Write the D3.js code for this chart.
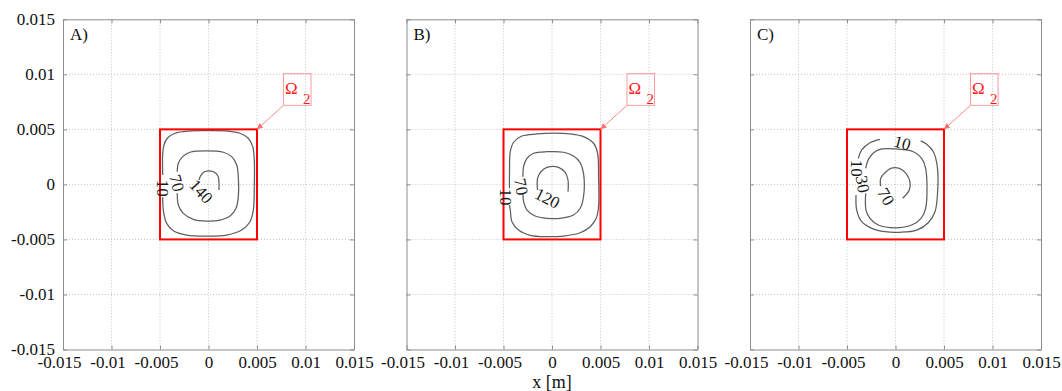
<!DOCTYPE html>
<html><head><meta charset="utf-8">
<script src="https://cdn.jsdelivr.net/npm/d3@7"></script>
<style>
body{margin:0;background:#fff}
text{font-family:"Liberation Serif","Times New Roman",serif}
</style>
</head><body>
<svg id="chart" width="1062" height="391"></svg>
<script>
// ---------------- data ----------------
const xTicks = [-0.015, -0.01, -0.005, 0, 0.005, 0.01, 0.015];
const yTicks = [-0.015, -0.01, -0.005, 0, 0.005, 0.01, 0.015];
const tickLabels = ["-0.015", "-0.01", "-0.005", "0", "0.005", "0.01", "0.015"];
const panelNames = ["A)", "B)", "C)"];
const xAxisTitle = "x [m]";
const regionX = [-0.005, 0.005];          // Ω2 region
const regionY = [-0.005, 0.005];
const omegaBoxX = [0.00773, 0.01057];     // Ω2 annotation box
const omegaBoxY = [0.00718, 0.01006];
const omegaArrowTip = [0.005, 0.005];

// contour polylines (x, y in metres)
const contoursA = [
  {level: 10, pts: [[-0.00472,-0.00117],[-0.00466,-0.00233],[-0.00431,-0.00354],[-0.00363,-0.00421],[-0.00225,-0.00460],[-0.00019,-0.00469],[0.00188,-0.00460],[0.00342,-0.00415],[0.00428,-0.00339],[0.00462,-0.00233],[0.00472,-0.00021],[0.00472,0.00222],[0.00456,0.00343],[0.00410,0.00419],[0.00325,0.00465],[0.00188,0.00485],[-0.00019,0.00488],[-0.00191,0.00485],[-0.00345,0.00465],[-0.00425,0.00419],[-0.00459,0.00358],[-0.00472,0.00283],[-0.00472,0.00085]]},
  {level: 70, pts: [[-0.00322,-0.00081],[-0.00311,-0.00187],[-0.00260,-0.00263],[-0.00157,-0.00317],[-0.00019,-0.00333],[0.00119,-0.00324],[0.00222,-0.00287],[0.00284,-0.00217],[0.00307,-0.00112],[0.00307,0.00070],[0.00291,0.00176],[0.00239,0.00252],[0.00153,0.00292],[-0.00019,0.00304],[-0.00191,0.00292],[-0.00266,0.00252],[-0.00311,0.00192],[-0.00322,0.00115]]},
  {level: 140, pts: [[-0.00098,0.00040],[-0.00077,0.00085],[-0.00036,0.00117],[0.00046,0.00117],[0.00098,0.00076],[0.00108,0.00013],[0.00108,-0.00051]]}
];
const labelsA = [
  {text: "10", x: -0.00472, y: -0.00035, angle: 90},
  {text: "70", x: -0.00330, y: 0.00013, angle: 75},
  {text: "140", x: -0.00077, y: -0.00066, angle: 48}
];

const contoursB = [
  {level: 10, pts: [[-0.00438,-0.00187],[-0.00430,-0.00233],[-0.00413,-0.00339],[-0.00345,-0.00415],[-0.00224,-0.00463],[-0.00052,-0.00475],[0.00119,-0.00469],[0.00291,-0.00439],[0.00394,-0.00385],[0.00456,-0.00308],[0.00480,-0.00203],[0.00480,0.00070],[0.00470,0.00283],[0.00428,0.00374],[0.00325,0.00434],[0.00188,0.00458],[0.00016,0.00465],[-0.00155,0.00458],[-0.00310,0.00440],[-0.00396,0.00383],[-0.00430,0.00297],[-0.00438,0.00131],[-0.00438,-0.00035]]},
  {level: 70, pts: [[-0.00299,-0.00081],[-0.00293,-0.00157],[-0.00258,-0.00233],[-0.00173,-0.00287],[-0.00052,-0.00308],[0.00085,-0.00308],[0.00222,-0.00278],[0.00291,-0.00217],[0.00325,-0.00112],[0.00325,0.00101],[0.00291,0.00197],[0.00222,0.00258],[0.00119,0.00292],[-0.00052,0.00297],[-0.00190,0.00283],[-0.00258,0.00237],[-0.00293,0.00161],[-0.00299,0.00070]]},
  {level: 120, pts: [[-0.00149,-0.00051],[-0.00149,0.00055],[-0.00114,0.00115],[-0.00052,0.00155],[0.00068,0.00155],[0.00137,0.00106],[0.00165,0.00040],[0.00165,-0.00066]]}
];
const labelsB = [
  {text: "10", x: -0.00482, y: -0.00115, angle: 90},
  {text: "70", x: -0.00320, y: -0.00021, angle: 80},
  {text: "120", x: -0.00049, y: -0.00128, angle: 27}
];

const contoursC = [
  {level: 10, pts: [[-0.00160,0.00410],[-0.00263,0.00379],[-0.00348,0.00313],[-0.00384,0.00237]]},
  {level: 10, pts: [[-0.00407,-0.00096],[-0.00400,-0.00233],[-0.00348,-0.00339],[-0.00245,-0.00399],[-0.00108,-0.00430],[0.00046,-0.00435],[0.00219,-0.00415],[0.00338,-0.00348],[0.00407,-0.00248],[0.00431,-0.00112],[0.00431,0.00161],[0.00390,0.00297],[0.00322,0.00365],[0.00260,0.00395]]},
  {level: 30, pts: [[-0.00307,-0.00081],[-0.00304,-0.00233],[-0.00263,-0.00308],[-0.00177,-0.00369],[-0.00005,-0.00394],[0.00167,-0.00369],[0.00263,-0.00308],[0.00311,-0.00217],[0.00311,0.00146],[0.00270,0.00237],[0.00184,0.00297],[-0.00005,0.00322],[-0.00177,0.00313],[-0.00273,0.00237],[-0.00307,0.00146]]},
  {level: 70, pts: [[-0.00153,-0.00015],[-0.00153,0.00055],[-0.00108,0.00106],[-0.00049,0.00146],[0.00039,0.00146],[0.00108,0.00101],[0.00149,0.00025],[0.00142,-0.00051],[0.00074,-0.00126]]}
];
const labelsC = [
  {text: "10", x: 0.00070, y: 0.00374, angle: 15},
  {text: "10", x: -0.00399, y: 0.00146, angle: 90},
  {text: "30", x: -0.00342, y: 0.00001, angle: 80},
  {text: "70", x: -0.00101, y: -0.00112, angle: 60}
];

// ---------------- drawing ----------------
const W = 1062, H = 391;
const svg = d3.select("#chart");
svg.append("rect").attr("width", W).attr("height", H).attr("fill", "#fff");

const defs = svg.append("defs");
defs.append("marker").attr("id", "arr").attr("viewBox", "0 0 10 10")
  .attr("refX", 10).attr("refY", 5).attr("markerWidth", 6).attr("markerHeight", 6)
  .attr("markerUnits", "userSpaceOnUse").attr("orient", "auto")
  .append("path").attr("d", "M0,0L10,5L0,10z").attr("fill", "#ff7070");

const panelLeft = [63, 406.5, 750];
const panelW = 291;
const plotTop = 19.3, plotBottom = 349.5;
const contourSets = [contoursA, contoursB, contoursC];
const labelSets = [labelsA, labelsB, labelsC];
const fmt = d => tickLabels[xTicks.indexOf(d)];
const frameColor = "#8c8c8c";
const tickFont = 17;

panelNames.forEach((name, i) => {
  const x = d3.scaleLinear().domain([xTicks[0], xTicks[xTicks.length - 1]])
    .range([panelLeft[i], panelLeft[i] + panelW]);
  const y = d3.scaleLinear().domain([yTicks[0], yTicks[yTicks.length - 1]])
    .range([plotBottom, plotTop]);
  const g = svg.append("g");

  // grid
  g.selectAll(".gx").data(xTicks.slice(1, -1)).join("line")
    .attr("x1", d => x(d)).attr("x2", d => x(d)).attr("y1", plotTop).attr("y2", plotBottom)
    .attr("stroke", "#c4c4c4").attr("stroke-width", 1).attr("stroke-dasharray", "1,2");
  g.selectAll(".gy").data(yTicks.slice(1, -1)).join("line")
    .attr("y1", d => y(d)).attr("y2", d => y(d)).attr("x1", x.range()[0]).attr("x2", x.range()[1])
    .attr("stroke", "#c4c4c4").attr("stroke-width", 1).attr("stroke-dasharray", "1,2");

  // contours
  const line = d3.line().x(d => x(d[0])).y(d => y(d[1])).curve(d3.curveCatmullRom.alpha(0.5));
  g.selectAll(".ct").data(contourSets[i]).join("path")
    .attr("d", d => line(d.pts)).attr("fill", "none")
    .attr("stroke", "#5e5e5e").attr("stroke-width", 1.25);

  // Ω2 region
  g.append("rect")
    .attr("x", x(regionX[0])).attr("y", y(regionY[1]))
    .attr("width", x(regionX[1]) - x(regionX[0])).attr("height", y(regionY[0]) - y(regionY[1]))
    .attr("fill", "none").attr("stroke", "#ff0000").attr("stroke-width", 2);

  // contour labels
  g.selectAll(".cl").data(labelSets[i]).join("text")
    .attr("transform", d => `translate(${x(d.x)},${y(d.y)}) rotate(${d.angle})`)
    .attr("text-anchor", "middle").attr("dominant-baseline", "central")
    .attr("font-size", 17).attr("fill", "#1a1a1a").text(d => d.text);

  // Ω2 annotation
  const bx0 = x(omegaBoxX[0]), bx1 = x(omegaBoxX[1]), by0 = y(omegaBoxY[1]), by1 = y(omegaBoxY[0]);
  g.append("line").attr("x1", bx0).attr("y1", by1)
    .attr("x2", x(omegaArrowTip[0])).attr("y2", y(omegaArrowTip[1]))
    .attr("stroke", "#ff8a8a").attr("stroke-width", 1).attr("marker-end", "url(#arr)");
  g.append("rect").attr("x", bx0).attr("y", by0).attr("width", bx1 - bx0).attr("height", by1 - by0)
    .attr("fill", "none").attr("stroke", "#ff9c9c").attr("stroke-width", 1);
  g.append("text").attr("x", bx0 + 1.5).attr("y", by0 + 20.5).attr("font-size", 17)
    .attr("fill", "#ff1a1a").text("Ω");
  g.append("text").attr("x", bx0 + 19.5).attr("y", by0 + 30).attr("font-size", 15)
    .attr("fill", "#ff1a1a").text("2");

  // axes
  const xAxis = d3.axisBottom(x).tickValues(xTicks).tickFormat(fmt)
    .tickSizeInner(-4).tickSizeOuter(0).tickPadding(6.5);
  const ax = g.append("g").attr("transform", `translate(0,${plotBottom})`).call(xAxis);
  ax.selectAll("text").attr("font-size", tickFont).attr("fill", "#111")
    .attr("dx", d => d < 0 ? -4 : 0);
  ax.selectAll("line,path").attr("stroke", frameColor);

  const yAxis = d3.axisLeft(y).tickValues(yTicks).tickFormat(d => tickLabels[yTicks.indexOf(d)])
    .tickSizeInner(-4).tickSizeOuter(0).tickPadding(i === 0 ? 8 : 0);
  const ay = g.append("g").attr("transform", `translate(${x.range()[0]},0)`).call(yAxis);
  ay.selectAll("line,path").attr("stroke", frameColor);
  if (i === 0) {
    ay.selectAll("text").attr("font-size", tickFont).attr("fill", "#111");
  } else {
    ay.selectAll("text").remove();
  }
  // top & right frame with mirrored ticks
  const axTop = d3.axisTop(x).tickValues(xTicks).tickFormat("").tickSizeInner(-4).tickSizeOuter(0);
  g.append("g").attr("transform", `translate(0,${plotTop})`).call(axTop)
    .selectAll("line,path").attr("stroke", frameColor);
  const ayR = d3.axisRight(y).tickValues(yTicks).tickFormat("").tickSizeInner(-4).tickSizeOuter(0);
  g.append("g").attr("transform", `translate(${x.range()[1]},0)`).call(ayR)
    .selectAll("line,path").attr("stroke", frameColor);

  // panel letter
  g.append("text").attr("x", x.range()[0] + 7).attr("y", plotTop + 20.5)
    .attr("font-size", 17).attr("fill", "#111").text(name);

  if (i === 1) {
    g.append("text").attr("x", x(0)).attr("y", 388).attr("text-anchor", "middle")
      .attr("font-size", 18).attr("fill", "#111").text(xAxisTitle);
  }
});
</script>
</body></html>
